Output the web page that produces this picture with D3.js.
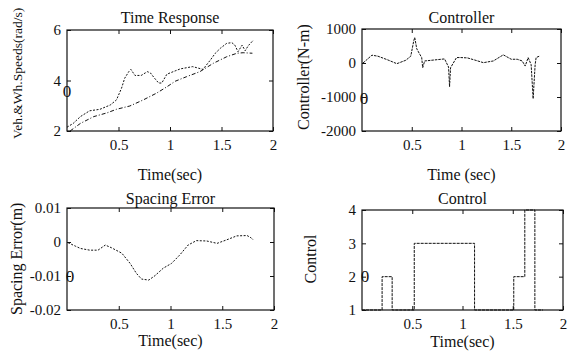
<html>
<head>
<script src="https://d3js.org/d3.v7.min.js"></script>
<style>
    body{ margin:0; background:#fff; }
    text{ font-family:"Liberation Serif","Times New Roman",serif; fill:#111; }
    .line{ fill:none; stroke:#111; stroke-width:1px; }
    .frame{ fill:none; stroke:#111; stroke-width:1.2px; }
</style>
</head>
<body>
<script>

// time response (wheel speed, upper dotted line)
var wheelT = [0.0, 0.06, 0.13, 0.22, 0.32, 0.42, 0.48, 0.53, 0.56, 0.6, 0.62, 0.66, 0.72, 0.78, 0.81, 0.85, 0.89, 0.92, 0.97, 1.05, 1.1, 1.22, 1.32, 1.39, 1.44, 1.49, 1.55, 1.6, 1.63, 1.66, 1.7, 1.73, 1.76, 1.81];
var wheelV = [2.15, 2.3, 2.57, 2.8, 2.86, 3.03, 3.23, 3.7, 4.09, 4.35, 4.44, 4.2, 4.2, 4.35, 4.3, 4.09, 3.9, 3.9, 4.25, 4.38, 4.46, 4.55, 4.44, 4.8, 5.08, 5.28, 5.47, 5.5, 5.4, 5.14, 5.4, 5.18, 5.38, 5.6];
// vehicle speed (lower dash-dot line)
var vehT = [0.03, 0.13, 0.26, 0.39, 0.48, 0.61, 0.74, 0.87, 0.97, 1.05, 1.16, 1.29, 1.42, 1.55, 1.65, 1.71, 1.8];
var vehV = [2.0, 2.3, 2.57, 2.72, 2.86, 2.99, 3.23, 3.5, 3.75, 3.97, 4.15, 4.35, 4.68, 4.94, 5.08, 5.1, 5.08];

// controller torque
var ctrlT = [0.01, 0.03, 0.1, 0.16, 0.26, 0.35, 0.44, 0.49, 0.52, 0.53, 0.55, 0.58, 0.6, 0.61, 0.63, 0.73, 0.83, 0.87, 0.88, 0.89, 0.95, 0.99, 1.06, 1.13, 1.22, 1.32, 1.42, 1.5, 1.56, 1.61, 1.64, 1.67, 1.7, 1.72, 1.74, 1.75, 1.79];
var ctrlV = [0, 50, 230, 200, 90, -20, 80, 200, 650, 750, 420, 260, 160, -140, 60, 90, 120, -120, -700, -140, 160, 160, 150, 90, 10, 60, 240, 110, 110, 60, -90, 160, -50, -1050, -50, 160, 210];

// spacing error
var errT = [0.01, 0.08, 0.13, 0.22, 0.3, 0.37, 0.43, 0.53, 0.61, 0.67, 0.72, 0.79, 0.85, 0.93, 1.01, 1.09, 1.17, 1.25, 1.35, 1.45, 1.54, 1.64, 1.74, 1.78, 1.8];
var errV = [-0.0002, -0.0012, -0.0019, -0.0024, -0.0024, -0.0009, -0.0017, -0.0033, -0.0063, -0.0092, -0.0109, -0.0112, -0.0099, -0.0077, -0.0063, -0.0038, -0.0009, 0.0004, 0.0003, -0.0004, 0.0006, 0.0018, 0.0019, 0.0012, 0.0006];

// control mode (step)
var modeT = [0.0, 0.2, 0.3, 0.52, 1.12, 1.51, 1.62, 1.72, 1.8];
var modeV = [1, 2, 1, 3, 1, 2, 4, 1, 1];

// tick labels
var xTicks = [0.5, 1, 1.5, 2];
var speedTicks = [2, 4, 6];
var ctrlTicks = [1000, 0, -1000, -2000];
var errTicks = [0.01, 0, -0.01, -0.02];
var modeTicks = [1, 2, 3, 4];

function zip(a, b){ return a.map(function(d, i){ return [d, b[i]]; }); }

var svg = d3.select("body").append("svg")
            .attr("width", 571)
            .attr("height", 355);

function panel(p){
    var x = d3.scaleLinear().domain([0, 2]).range([p.x0, p.x1]);
    var y = d3.scaleLinear().domain(p.yDomain).range([p.y1, p.y0]);
    var g = svg.append("g");
    var fmt = function(d){ return String(d); };

    // bottom + top ticks (inward)
    g.append("g").attr("transform", "translate(0," + p.y1 + ")")
     .call(d3.axisBottom(x).tickValues(xTicks).tickSizeInner(-4).tickSizeOuter(0).tickPadding(8).tickFormat(fmt));
    g.append("g").attr("transform", "translate(0," + p.y0 + ")")
     .call(d3.axisTop(x).tickValues(xTicks).tickSizeInner(-4).tickSizeOuter(0).tickFormat(""));
    // left + right ticks
    g.append("g").attr("transform", "translate(" + p.x0 + ",0)")
     .call(d3.axisLeft(y).tickValues(p.yTicks).tickSizeInner(-4).tickSizeOuter(0).tickPadding(6).tickFormat(fmt));
    g.append("g").attr("transform", "translate(" + p.x1 + ",0)")
     .call(d3.axisRight(y).tickValues(p.yTicks).tickSizeInner(-4).tickSizeOuter(0).tickFormat(""));

    g.selectAll(".domain").remove();
    g.selectAll(".tick line").attr("stroke", "#111");
    g.selectAll(".tick text").style("font-size", "15px").attr("fill", "#111")
     .style("font-family", "'Liberation Serif','Times New Roman',serif");

    // frame
    g.append("rect").attr("class", "frame")
     .attr("x", p.x0).attr("y", p.y0)
     .attr("width", p.x1 - p.x0).attr("height", p.y1 - p.y0);

    // series
    p.series.forEach(function(s){
        var line = d3.line().x(function(d){ return x(d[0]); }).y(function(d){ return y(d[1]); });
        if (s.step) line.curve(d3.curveStepAfter);
        g.append("path").datum(s.data).attr("class", "line")
         .attr("stroke-dasharray", s.dash).attr("d", line);
    });

    // title
    g.append("text").attr("x", (p.x0 + p.x1) / 2).attr("y", p.titleY)
     .attr("text-anchor", "middle").style("font-size", "16px").text(p.title);
    // x label
    g.append("text").attr("x", (p.x0 + p.x1) / 2).attr("y", p.xLabelY)
     .attr("text-anchor", "middle").style("font-size", "16px").text(p.xLabel);
    // y label
    g.append("text").attr("transform", "translate(" + p.yLabelX + "," + p.yLabelY + ") rotate(-90)")
     .attr("text-anchor", p.yAnchor).style("font-size", p.yLabelSize || "16px").text(p.yLabel);
    // stray zero from the scan
    g.append("text").attr("x", p.zeroX).attr("y", p.zeroY)
     .attr("text-anchor", "middle").style("font-size", "17px").text("0");
}

panel({
    x0: 67, x1: 273, y0: 30, y1: 131, yDomain: [2, 6], yTicks: speedTicks,
    title: "Time Response", titleY: 23, xLabel: "Time(sec)", xLabelY: 180,
    yLabel: "Veh.&Wh.Speeds(rad/s)", yLabelX: 22, yLabelY: 139, yAnchor: "start",
    yLabelSize: "13.5px",
    zeroX: 67, zeroY: 97,
    series: [
        { data: zip(wheelT, wheelV), dash: "2,1.5" },
        { data: zip(vehT, vehV), dash: "4,2,1,2" }
    ]
});

panel({
    x0: 362, x1: 561, y0: 29, y1: 131, yDomain: [-2000, 1000], yTicks: ctrlTicks,
    title: "Controller", titleY: 23, xLabel: "Time (sec)", xLabelY: 180,
    yLabel: "Controller(N-m)", yLabelX: 309, yLabelY: 130, yAnchor: "start",
    zeroX: 364, zeroY: 104,
    series: [ { data: zip(ctrlT, ctrlV), dash: "2.5,1" } ]
});

panel({
    x0: 67, x1: 274, y0: 208, y1: 310, yDomain: [-0.02, 0.01], yTicks: errTicks,
    title: "Spacing Error", titleY: 204, xLabelY: 346, xLabel: "Time(sec)",
    yLabel: "Spacing Error(m)", yLabelX: 22, yLabelY: 315, yAnchor: "start",
    zeroX: 70, zeroY: 282,
    series: [ { data: zip(errT, errV), dash: "2,1.5" } ]
});

panel({
    x0: 362, x1: 563, y0: 210, y1: 310, yDomain: [1, 4], yTicks: modeTicks,
    title: "Control", titleY: 204, xLabelY: 347, xLabel: "Time(sec)",
    yLabel: "Control", yLabelX: 316, yLabelY: 259, yAnchor: "middle",
    zeroX: 365, zeroY: 282,
    series: [ { data: zip(modeT, modeV), dash: "3,1", step: true } ]
});

</script>
</body>
</html>
